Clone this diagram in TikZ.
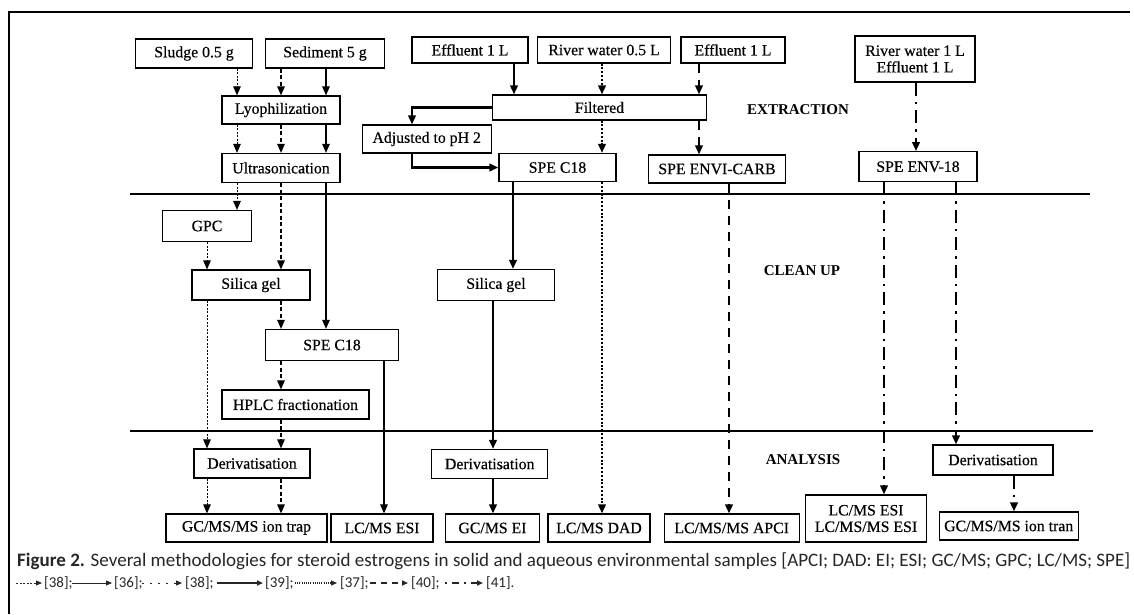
\documentclass[tikz,border=0pt]{standalone}
\usepackage{fontspec}
\setmainfont{Liberation Serif}
\newfontfamily\boxfont[FakeBold=0.4]{Liberation Serif}
\newfontfamily\capfont{Carlito}
\usetikzlibrary{arrows.meta}
\begin{document}
\begin{tikzpicture}[x=1pt,y=-1pt,
  >={Triangle[length=9pt,width=7.5pt]},
  box/.style={draw, line width=1.2pt, inner sep=0pt, align=center,
    font=\boxfont\fontsize{15.8}{16.5}\selectfont},
  lab/.style={font=\bfseries\fontsize{15}{17}\selectfont},
  aF/.style={->, line width=1pt, dash pattern=on 2pt off 1.5pt},
  aD/.style={->, line width=1.3pt, dash pattern=on 4pt off 2.5pt},
  aT/.style={->, line width=1.1pt},
  aS/.style={->, line width=2.3pt},
  aP/.style={->, line width=2.8pt, dash pattern=on 2pt off 1.8pt},
  aL/.style={->, line width=2.4pt, dash pattern=on 9pt off 7pt},
  aDD/.style={->, line width=2.4pt, dash pattern=on 13pt off 6pt on 2.5pt off 6pt},
  leg/.style={>={Triangle[length=6pt,width=5pt]}},
  rule/.style={line width=1.2pt},
  captxt/.style={anchor=west, inner sep=0pt, text=black!85, font=\capfont\fontsize{15}{17}\selectfont}
]
\useasboundingbox (0,0) rectangle (1134,614);
% frame and dividers
\coordinate (f1) at (9,614); \coordinate (f2) at (9,12); \coordinate (f3) at (1130,12);
\draw[line width=1.4pt] (f1) -- (f2) -- (f3);
\coordinate (d1a) at (130,194); \coordinate (d1b) at (1090,194);
\coordinate (d2a) at (130,431); \coordinate (d2b) at (1093,431);
\draw[rule] (d1a) -- (d1b);
\draw[rule] (d2a) -- (d2b);

% boxes
\node[box, minimum width=117pt, minimum height=29pt] (sludge) at (194,53.5) {Sludge 0.5 g};
\node[box, minimum width=119pt, minimum height=29pt] (sed) at (325,53.5) {Sediment 5 g};
\node[box, minimum width=118pt, minimum height=28pt] (lyo) at (281,110) {Lyophilization};
\node[box, minimum width=118pt, minimum height=29pt] (ultra) at (281,168) {Ultrasonication};
\node[box, minimum width=89pt, minimum height=31pt] (gpc) at (207,226) {GPC};
\node[box, minimum width=118pt, minimum height=30pt] (silL) at (251,285) {Silica gel};
\node[box, minimum width=133pt, minimum height=31pt] (speL) at (332,345) {SPE C18};
\node[box, minimum width=147pt, minimum height=29pt] (hplc) at (295.5,404.5) {HPLC fractionation};
\node[box, minimum width=116pt, minimum height=29pt] (derL) at (252,463.5) {Derivatisation};
\node[box, minimum width=161pt, minimum height=28pt] (gcL) at (246.5,528) {GC/MS/MS ion trap};
\node[box, minimum width=102pt, minimum height=28pt] (lcL) at (382,528) {LC/MS ESI};

\node[box, minimum width=116pt, minimum height=26pt] (eff1) at (470,50) {Effluent 1 L};
\node[box, minimum width=133pt, minimum height=26pt] (rw) at (604,50) {River water 0.5 L};
\node[box, minimum width=104pt, minimum height=26pt] (eff2) at (733,50) {Effluent 1 L};
\node[box, minimum width=214pt, minimum height=25pt] (filt) at (599.5,107.5) {Filtered};
\node[box, minimum width=129pt, minimum height=28pt] (adj) at (426.7,139) {Adjusted to pH 2};
\node[box, minimum width=117pt, minimum height=28pt] (speM) at (557.5,167.5) {SPE C18};
\node[box, minimum width=137pt, minimum height=28pt] (envi) at (717,169) {SPE ENVI-CARB};
\node[box, minimum width=117pt, minimum height=31pt] (silM) at (496,285) {Silica gel};
\node[box, minimum width=116pt, minimum height=29pt] (derM) at (489.7,464) {Derivatisation};
\node[box, minimum width=94pt, minimum height=28pt] (gcM) at (492.5,528) {GC/MS EI};
\node[box, minimum width=102pt, minimum height=28pt] (dad) at (599,528) {LC/MS DAD};
\node[box, minimum width=135pt, minimum height=28pt] (apci) at (731.7,528) {LC/MS/MS APCI};

\node[box, minimum width=120pt, minimum height=46pt] (rw2) at (915,59) {River water 1 L\\Effluent 1 L};
\node[box, minimum width=118pt, minimum height=30pt] (env18) at (918,166.7) {SPE ENV-18};
\node[box, minimum width=121pt, minimum height=47pt] (lcR) at (866,518.5) {LC/MS ESI\\LC/MS/MS ESI};
\node[box, minimum width=120pt, minimum height=30pt] (derR) at (993,460) {Derivatisation};
\node[box, minimum width=139pt, minimum height=28pt] (gcR) at (1008.7,526) {GC/MS/MS ion tran};

% section labels
\node[lab] (lext) at (798,110) {EXTRACTION};
\node[lab] (lcln) at (802,271) {CLEAN UP};
\node[lab] (lana) at (803,460) {ANALYSIS};

% column coordinates
\coordinate (xA) at (237,0); \coordinate (xA2) at (207,0);
\coordinate (xB) at (281,0);
\coordinate (xC) at (326,0); \coordinate (xC2) at (384,0);
\coordinate (xS1) at (514,0); \coordinate (xS2) at (412,0);
\coordinate (xS3) at (513,0); \coordinate (xS4) at (493,0);
\coordinate (xP) at (602,0);
\coordinate (xL1) at (699,0); \coordinate (xL2) at (729,0);
\coordinate (xR1) at (916,0); \coordinate (xR2) at (884,0);
\coordinate (xR3) at (956,0); \coordinate (xR4) at (1014,0);

% [38] fine dotted
\draw[aF] (sludge.south -| xA) -- (lyo.north -| xA);
\draw[aF] (lyo.south -| xA) -- (ultra.north -| xA);
\draw[aF] (ultra.south -| xA) -- (gpc.north -| xA);
\draw[aF] (gpc.south -| xA2) -- (silL.north -| xA2);
\draw[aF] (silL.south -| xA2) -- (derL.north -| xA2);
\draw[aF] (derL.south -| xA2) -- (gcL.north -| xA2);
% [38] dashed
\draw[aD] (sed.south -| xB) -- (lyo.north -| xB);
\draw[aD] (lyo.south -| xB) -- (ultra.north -| xB);
\draw[aD] (ultra.south -| xB) -- (silL.north -| xB);
\draw[aD] (silL.south -| xB) -- (speL.north -| xB);
\draw[aD] (speL.south -| xB) -- (hplc.north -| xB);
\draw[aD] (hplc.south -| xB) -- (derL.north -| xB);
\draw[aD] (derL.south -| xB) -- (gcL.north -| xB);
% [36] thin solid
\draw[aT] (sed.south -| xC) -- (lyo.north -| xC);
\draw[aT] (lyo.south -| xC) -- (ultra.north -| xC);
\draw[aT] (ultra.south -| xC) -- (speL.north -| xC);
\draw[aT] (speL.south -| xC2) -- (lcL.north -| xC2);
% [39] thick solid
\draw[aS] (eff1.south -| xS1) -- (filt.north -| xS1);
\draw[aS] (filt.west) -| (adj.north -| xS2);
\draw[aS] (adj.south -| xS2) |- (speM.west);
\draw[aS] (speM.south -| xS3) -- (silM.north -| xS3);
\draw[aS] (silM.south -| xS4) -- (derM.north -| xS4);
\draw[aS] (derM.south -| xS4) -- (gcM.north -| xS4);
% [37] thick dotted
\draw[aP] (rw.south -| xP) -- (filt.north -| xP);
\draw[aP] (filt.south -| xP) -- (speM.north -| xP);
\draw[aP] (speM.south -| xP) -- (dad.north -| xP);
% [40] thick dashed
\draw[aL] (eff2.south -| xL1) -- (filt.north -| xL1);
\draw[aL] (filt.south -| xL1) -- (envi.north -| xL1);
\draw[aL] (envi.south -| xL2) -- (apci.north -| xL2);
% [41] dash-dot
\draw[aDD] (rw2.south -| xR1) -- (env18.north -| xR1);
\draw[aDD] (env18.south -| xR2) -- (lcR.north -| xR2);
\draw[aDD] (env18.south -| xR3) -- (derR.north -| xR3);
\draw[aDD] (derR.south -| xR4) -- (gcR.north -| xR4);

% caption
\node[captxt] (cap1) at (17,561) {\resizebox{1113pt}{!}{\textbf{Figure 2.} Several methodologies for steroid estrogens in solid and aqueous environmental samples [APCI; DAD: EI; ESI; GC/MS; GPC; LC/MS; SPE]}};
\coordinate (g1a) at (16,583); \coordinate (g1b) at (42,583);
\coordinate (g2a) at (72,583); \coordinate (g2b) at (112,583);
\coordinate (g3a) at (142,583); \coordinate (g3b) at (182,583);
\coordinate (g4a) at (217,583); \coordinate (g4b) at (263,583);
\coordinate (g5a) at (295,583); \coordinate (g5b) at (337,583);
\coordinate (g6a) at (370,583); \coordinate (g6b) at (408,583);
\coordinate (g7a) at (445,583); \coordinate (g7b) at (483,583);
\begin{scope}[leg, black!85]
\draw[aF, line width=0.8pt] (g1a) -- (g1b);
\draw[aT, line width=0.8pt] (g2a) -- (g2b);
\draw[aD, line width=0.8pt, dash pattern=on 2pt off 6pt] (g3a) -- (g3b);
\draw[aS, line width=1.6pt] (g4a) -- (g4b);
\draw[aP, line width=1.2pt, dash pattern=on 1pt off 1.2pt] (g5a) -- (g5b);
\draw[aL, line width=1.6pt, dash pattern=on 6pt off 5pt] (g6a) -- (g6b);
\draw[aDD, line width=1.6pt, dash pattern=on 2pt off 5pt on 7pt off 5pt] (g7a) -- (g7b);
\end{scope}
\node[captxt] (t1) at (44,583) {[38];};
\node[captxt] (t2) at (114,583) {[36];};
\node[captxt] (t3) at (185,583) {[38];};
\node[captxt] (t4) at (265,583) {[39];};
\node[captxt] (t5) at (340,583) {[37];};
\node[captxt] (t6) at (411,583) {[40];};
\node[captxt] (t7) at (486,583) {[41].};
\end{tikzpicture}
\end{document}
